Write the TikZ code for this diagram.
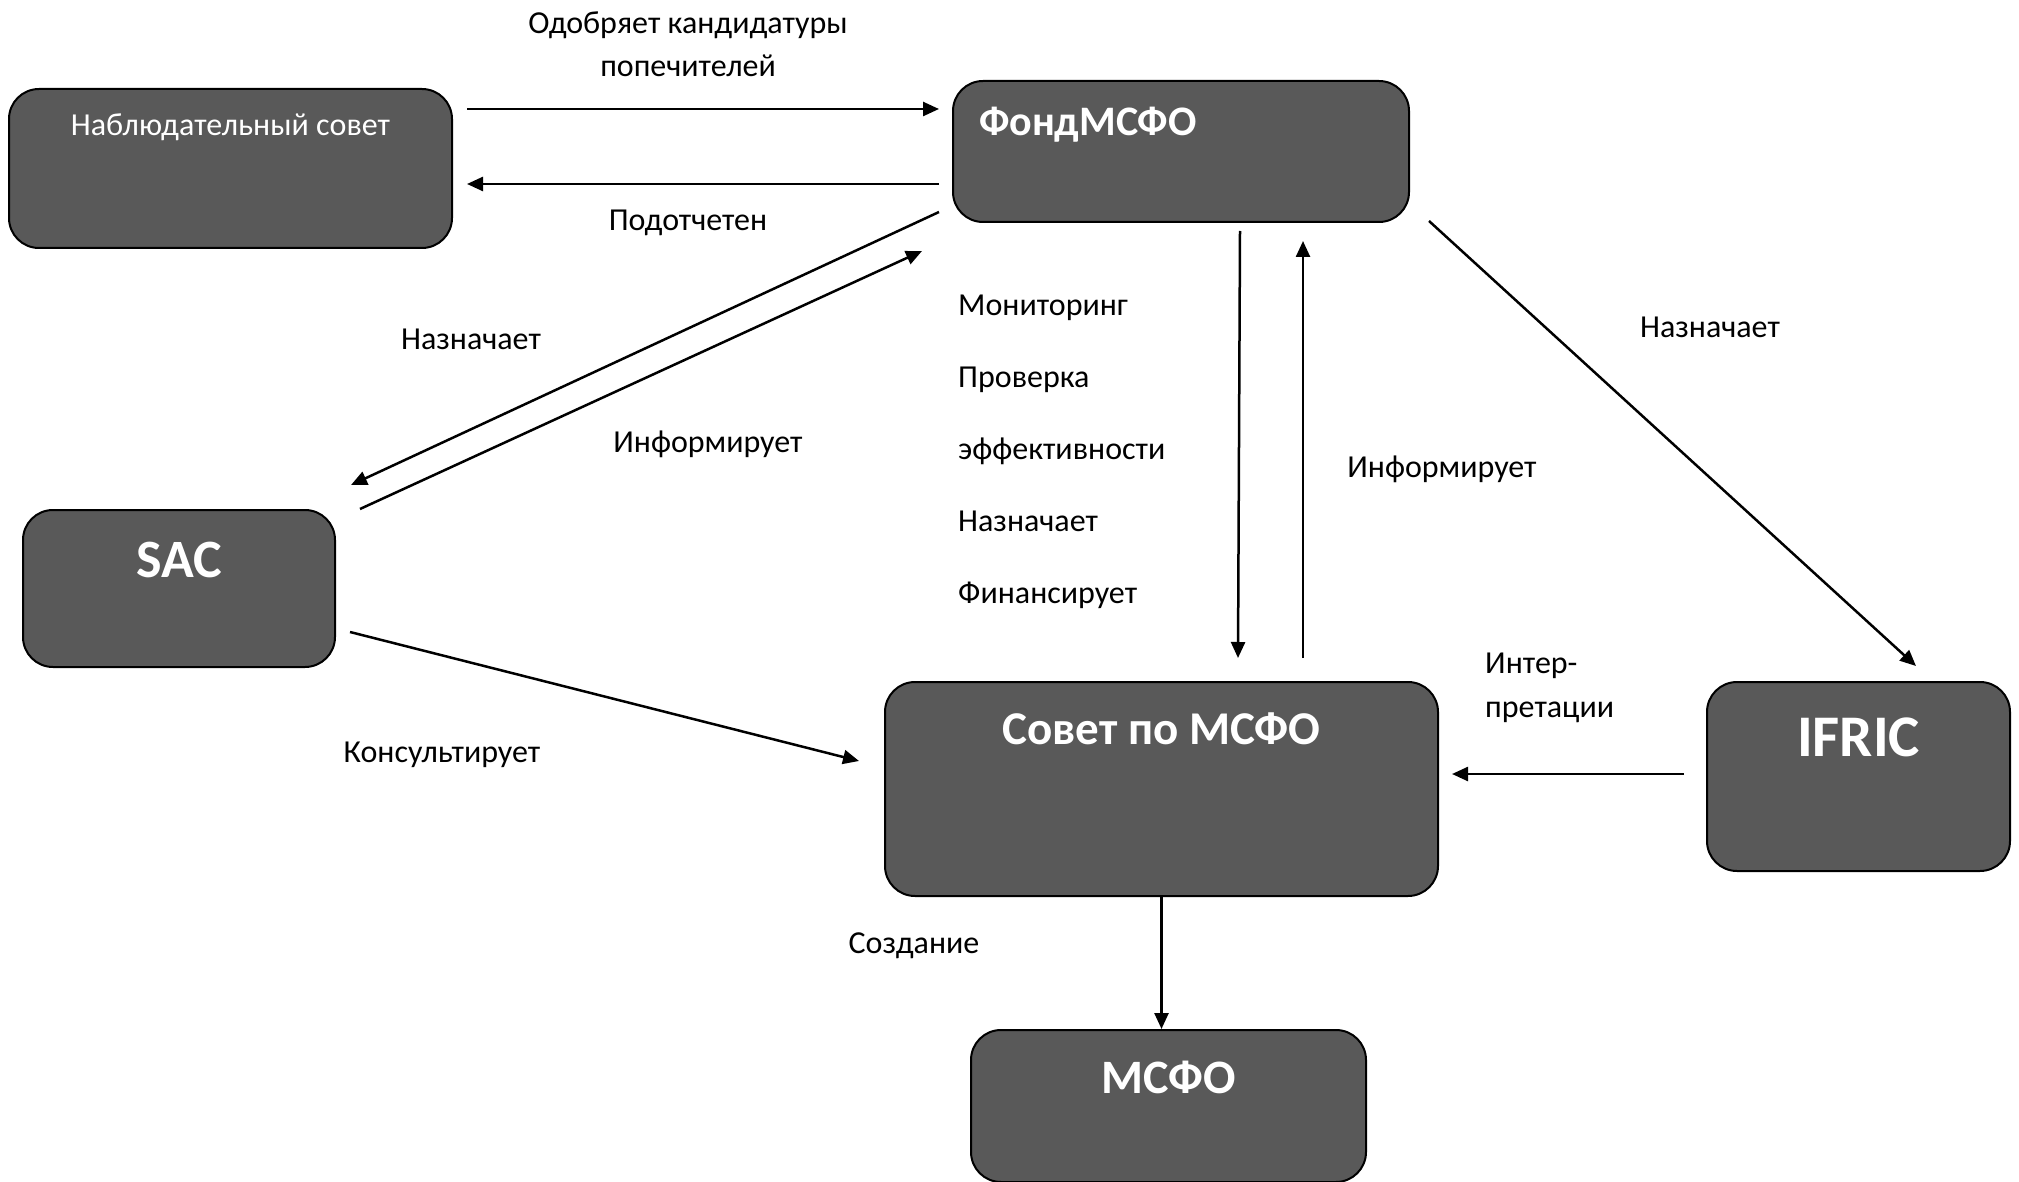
\documentclass[tikz,border=0pt]{standalone}
\usepackage{fontspec}
\setmainfont{Carlito}
\usepackage{tikz}
\usetikzlibrary{arrows.meta, calc}
\definecolor{boxgray}{HTML}{595959}

\begin{document}
\begin{tikzpicture}[
    x=1pt, y=-1pt,
    box/.style={rectangle, rounded corners=30pt, draw=black, line width=2pt, fill=boxgray, text=white, anchor=north, inner sep=0pt},
    link/.style={line width=2.5pt, -{Triangle[length=16pt, width=14pt]}},
    lbl/.style={font=\fontsize{32}{43}\selectfont, align=center, inner sep=0pt}
]
    \useasboundingbox (0,0) rectangle (2019,1182);

    % Bodies
    \node[box, minimum width=443pt, text height=47pt, text depth=112pt, font=\fontsize{32}{38}\selectfont] (Board) at (230.5,88) {Наблюдательный совет};
    \node[box, text width=404pt, inner xsep=26pt, align=left, text height=55pt, text depth=86pt, font=\bfseries\fontsize{42}{50}\selectfont] (Foundation) at (1181,80) {ФондМСФО};
    \node[box, minimum width=312pt, text height=67pt, text depth=90pt, font=\bfseries\fontsize{54}{62}\selectfont] (SAC) at (179,509) {SAC};
    \node[box, minimum width=553pt, text height=62pt, text depth=152pt, font=\bfseries\fontsize{47}{56}\selectfont] (IASB) at (1161.5,681) {Совет по МСФО};
    \node[box, minimum width=303pt, text height=74pt, text depth=115pt, font=\bfseries\fontsize{59}{68}\selectfont] (IFRIC) at (1858.5,681) {IFRIC};
    \node[box, minimum width=395pt, text height=63pt, text depth=89pt, font=\bfseries\fontsize{48}{56}\selectfont] (IFRS) at (1168.5,1029) {МСФО};

    % Links
    \draw[link] ($(Board.north east)+(14,21)$) -- ($(Foundation.north west)+(-13,29)$);
    \draw[link] ($(Foundation.north west)+(-13,104)$) -- ($(Board.north east)+(14,96)$);
    \draw[link] ($(Foundation.north west)+(-13,132)$) -- ($(SAC.north east)+(15,-24)$);
    \draw[link] ($(SAC.north east)+(24,0)$) -- ($(Foundation.south west)+(-30,28)$);
    \draw[link] ($(SAC.north east)+(14,123)$) -- ($(IASB.north west)+(-25,80)$);
    \draw[link] ($(Foundation.south west)+(288,8)$) -- ($(IASB.north west)+(354,-23)$);
    \draw[link] ($(IASB.north west)+(419,-23)$) -- ($(Foundation.south west)+(351,18)$);
    \draw[link] ($(Foundation.south east)+(19,-2)$) -- ($(IFRIC.north west)+(210,-15)$);
    \draw[link] ($(IFRIC.north west)+(-22,93)$) -- ($(IASB.north east)+(13,93)$);
    \draw[link] (IASB.south) -- (IASB.south |- IFRS.north);

    % Labels
    \node[lbl] (approve) at (688,44.5) {Одобряет кандидатуры\\попечителей};
    \node[lbl] (report) at (688,223) {Подотчетен};
    \node[lbl] (appointSAC) at (471,339) {Назначает};
    \node[lbl] (informSAC) at (708,444) {Информирует};
    \node[lbl, anchor=west, align=left, font=\fontsize{32}{72}\selectfont] (duties) at (958,452) {Мониторинг\\Проверка\\эффективности\\Назначает\\Финансирует};
    \node[lbl] (informIASB) at (1442,469) {Информирует};
    \node[lbl] (appointIFRIC) at (1710,327) {Назначает};
    \node[lbl, anchor=west, align=left, font=\fontsize{32}{44}\selectfont] (interpret) at (1485,688) {Интер-\\претации};
    \node[lbl] (advise) at (442,755) {Консультирует};
    \node[lbl] (create) at (914,946) {Создание};

\end{tikzpicture}
\end{document}
